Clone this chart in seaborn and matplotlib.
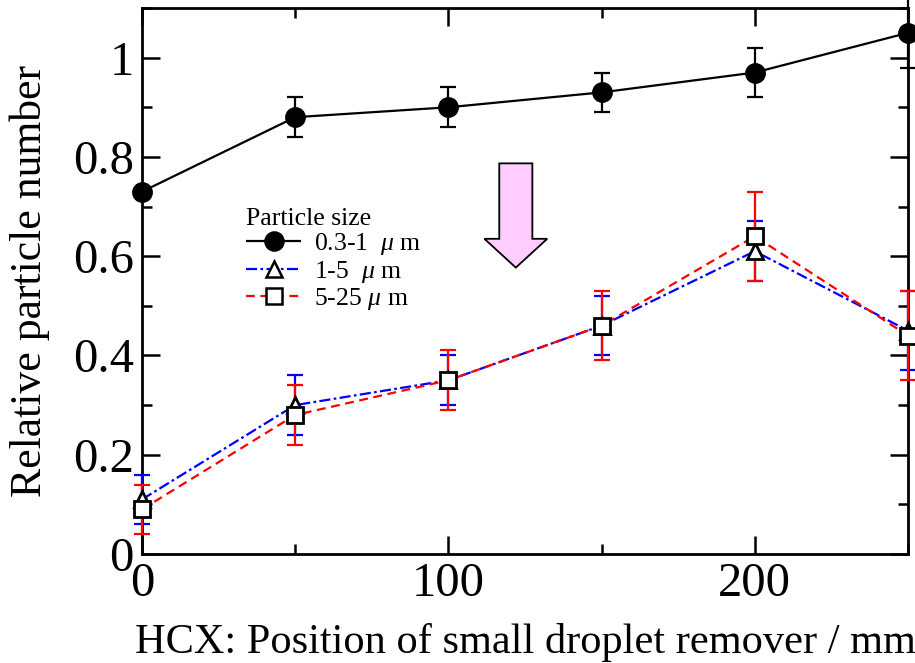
import numpy as np
import pandas as pd
import matplotlib
matplotlib.use("Agg")
import matplotlib.pyplot as plt
import seaborn as sns
from matplotlib.ticker import MultipleLocator, FuncFormatter
from matplotlib.lines import Line2D
from matplotlib.patches import FancyArrow

# ---- data ----
positions = [0, 50, 100, 150, 200, 250]
small_vals = [0.73, 0.88, 0.90, 0.93, 0.97, 1.05]
small_err = [0.0, 0.04, 0.04, 0.04, 0.05, 0.07]
mid_vals = [0.11, 0.30, 0.35, 0.46, 0.61, 0.45]
mid_err = [0.05, 0.06, 0.05, 0.06, 0.06, 0.08]
large_vals = [0.09, 0.28, 0.35, 0.46, 0.64, 0.44]
large_err = [0.05, 0.06, 0.06, 0.07, 0.09, 0.09]
series_names = ["0.3-1  $\\mu$ m", "1-5  $\\mu$ m", "5-25 $\\mu$ m"]
legend_title = "Particle size"
x_label = "HCX: Position of small droplet remover / mm"
y_label = "Relative particle number"

sns.set_style("ticks")
plt.rcParams["font.family"] = ["Liberation Serif", "DejaVu Serif"]
plt.rcParams["mathtext.fontset"] = "custom"
plt.rcParams["mathtext.rm"] = "Liberation Serif"
plt.rcParams["mathtext.it"] = "Liberation Serif:italic"
for k in ["text.color", "axes.labelcolor", "xtick.color", "ytick.color", "axes.edgecolor"]:
    plt.rcParams[k] = "black"

df = pd.DataFrame({
    "x": positions * 3,
    "y": small_vals + mid_vals + large_vals,
    "series": [series_names[0]] * 6 + [series_names[1]] * 6 + [series_names[2]] * 6,
})

fig = plt.figure(figsize=(9.15, 6.63), dpi=100)
ax = fig.add_axes([142 / 915, 1 - 554 / 663, (908 - 142) / 915, (554 - 8) / 663])

colors = ["black", "blue", "red"]
dashes = [(1, 0), (5, 1.5, 1.2, 1.5), (4, 2.5)]
markers = ["o", "^", "s"]
msizes = [13, 12, 12]
errs = [small_err, mid_err, large_err]

# lines via seaborn
sns.lineplot(data=df, x="x", y="y", hue="series", style="series",
             palette=dict(zip(series_names, colors)),
             dashes=dict(zip(series_names, dashes)),
             markers=False, lw=1.6, legend=False, ax=ax, zorder=2)

# error bars
for name, c, e in zip(series_names, colors, errs):
    sub = df[df.series == name]
    ax.errorbar(sub.x, sub.y, yerr=e, fmt="none", ecolor=c, elinewidth=1.6,
                capsize=6, capthick=1.6, zorder=3, clip_on=False)

# markers
for name, m, ms in zip(series_names, markers, msizes):
    sub = df[df.series == name]
    face = "black" if m == "o" else "white"
    ax.plot(sub.x, sub.y, ls="none", marker=m, ms=ms, mfc=face, mec="black",
            mew=2, zorder=5, clip_on=False)

# arrow
ax.add_patch(FancyArrow(122, 0.787, 0, -0.21, width=10.8, head_width=20.5,
                        head_length=0.058, length_includes_head=True,
                        fc="#ffccff", ec="black", lw=1.3, zorder=4))

ax.set_xlim(0, 250)
ax.set_ylim(0, 1.1)
ax.xaxis.set_major_locator(MultipleLocator(100))
ax.xaxis.set_minor_locator(MultipleLocator(50))
ax.yaxis.set_major_locator(MultipleLocator(0.2))
ax.yaxis.set_minor_locator(MultipleLocator(0.1))
ax.yaxis.set_major_formatter(FuncFormatter(lambda v, p: f"{v:g}"))
ax.tick_params(which="both", direction="in", top=True, right=True, width=1.8,
               labelsize=35, pad=6)
ax.tick_params(which="major", length=13)
ax.tick_params(which="minor", length=7)
for s in ax.spines.values():
    s.set_linewidth(2)
ax.set_xlabel(x_label, fontsize=30.5, labelpad=12)
ax.set_ylabel(y_label, fontsize=31.5, labelpad=16)

handles = [Line2D([], [], color=c, dashes=d, lw=1.6, marker=m, ms=ms,
                  mfc=("black" if m == "o" else "white"), mec="black", mew=1.8)
           for c, d, m, ms in zip(colors, dashes, markers, msizes)]
leg = ax.legend(handles, series_names, title=legend_title, loc="upper left",
                bbox_to_anchor=(246 / 915, 1 - 208 / 663), bbox_transform=fig.transFigure,
                frameon=False, fontsize=18.5, title_fontsize=18.5, handlelength=2.15,
                labelspacing=0.05, handletextpad=0.5, borderaxespad=0, borderpad=0)
leg._legend_box.align = "left"

fig.savefig("out.png", dpi=100)
